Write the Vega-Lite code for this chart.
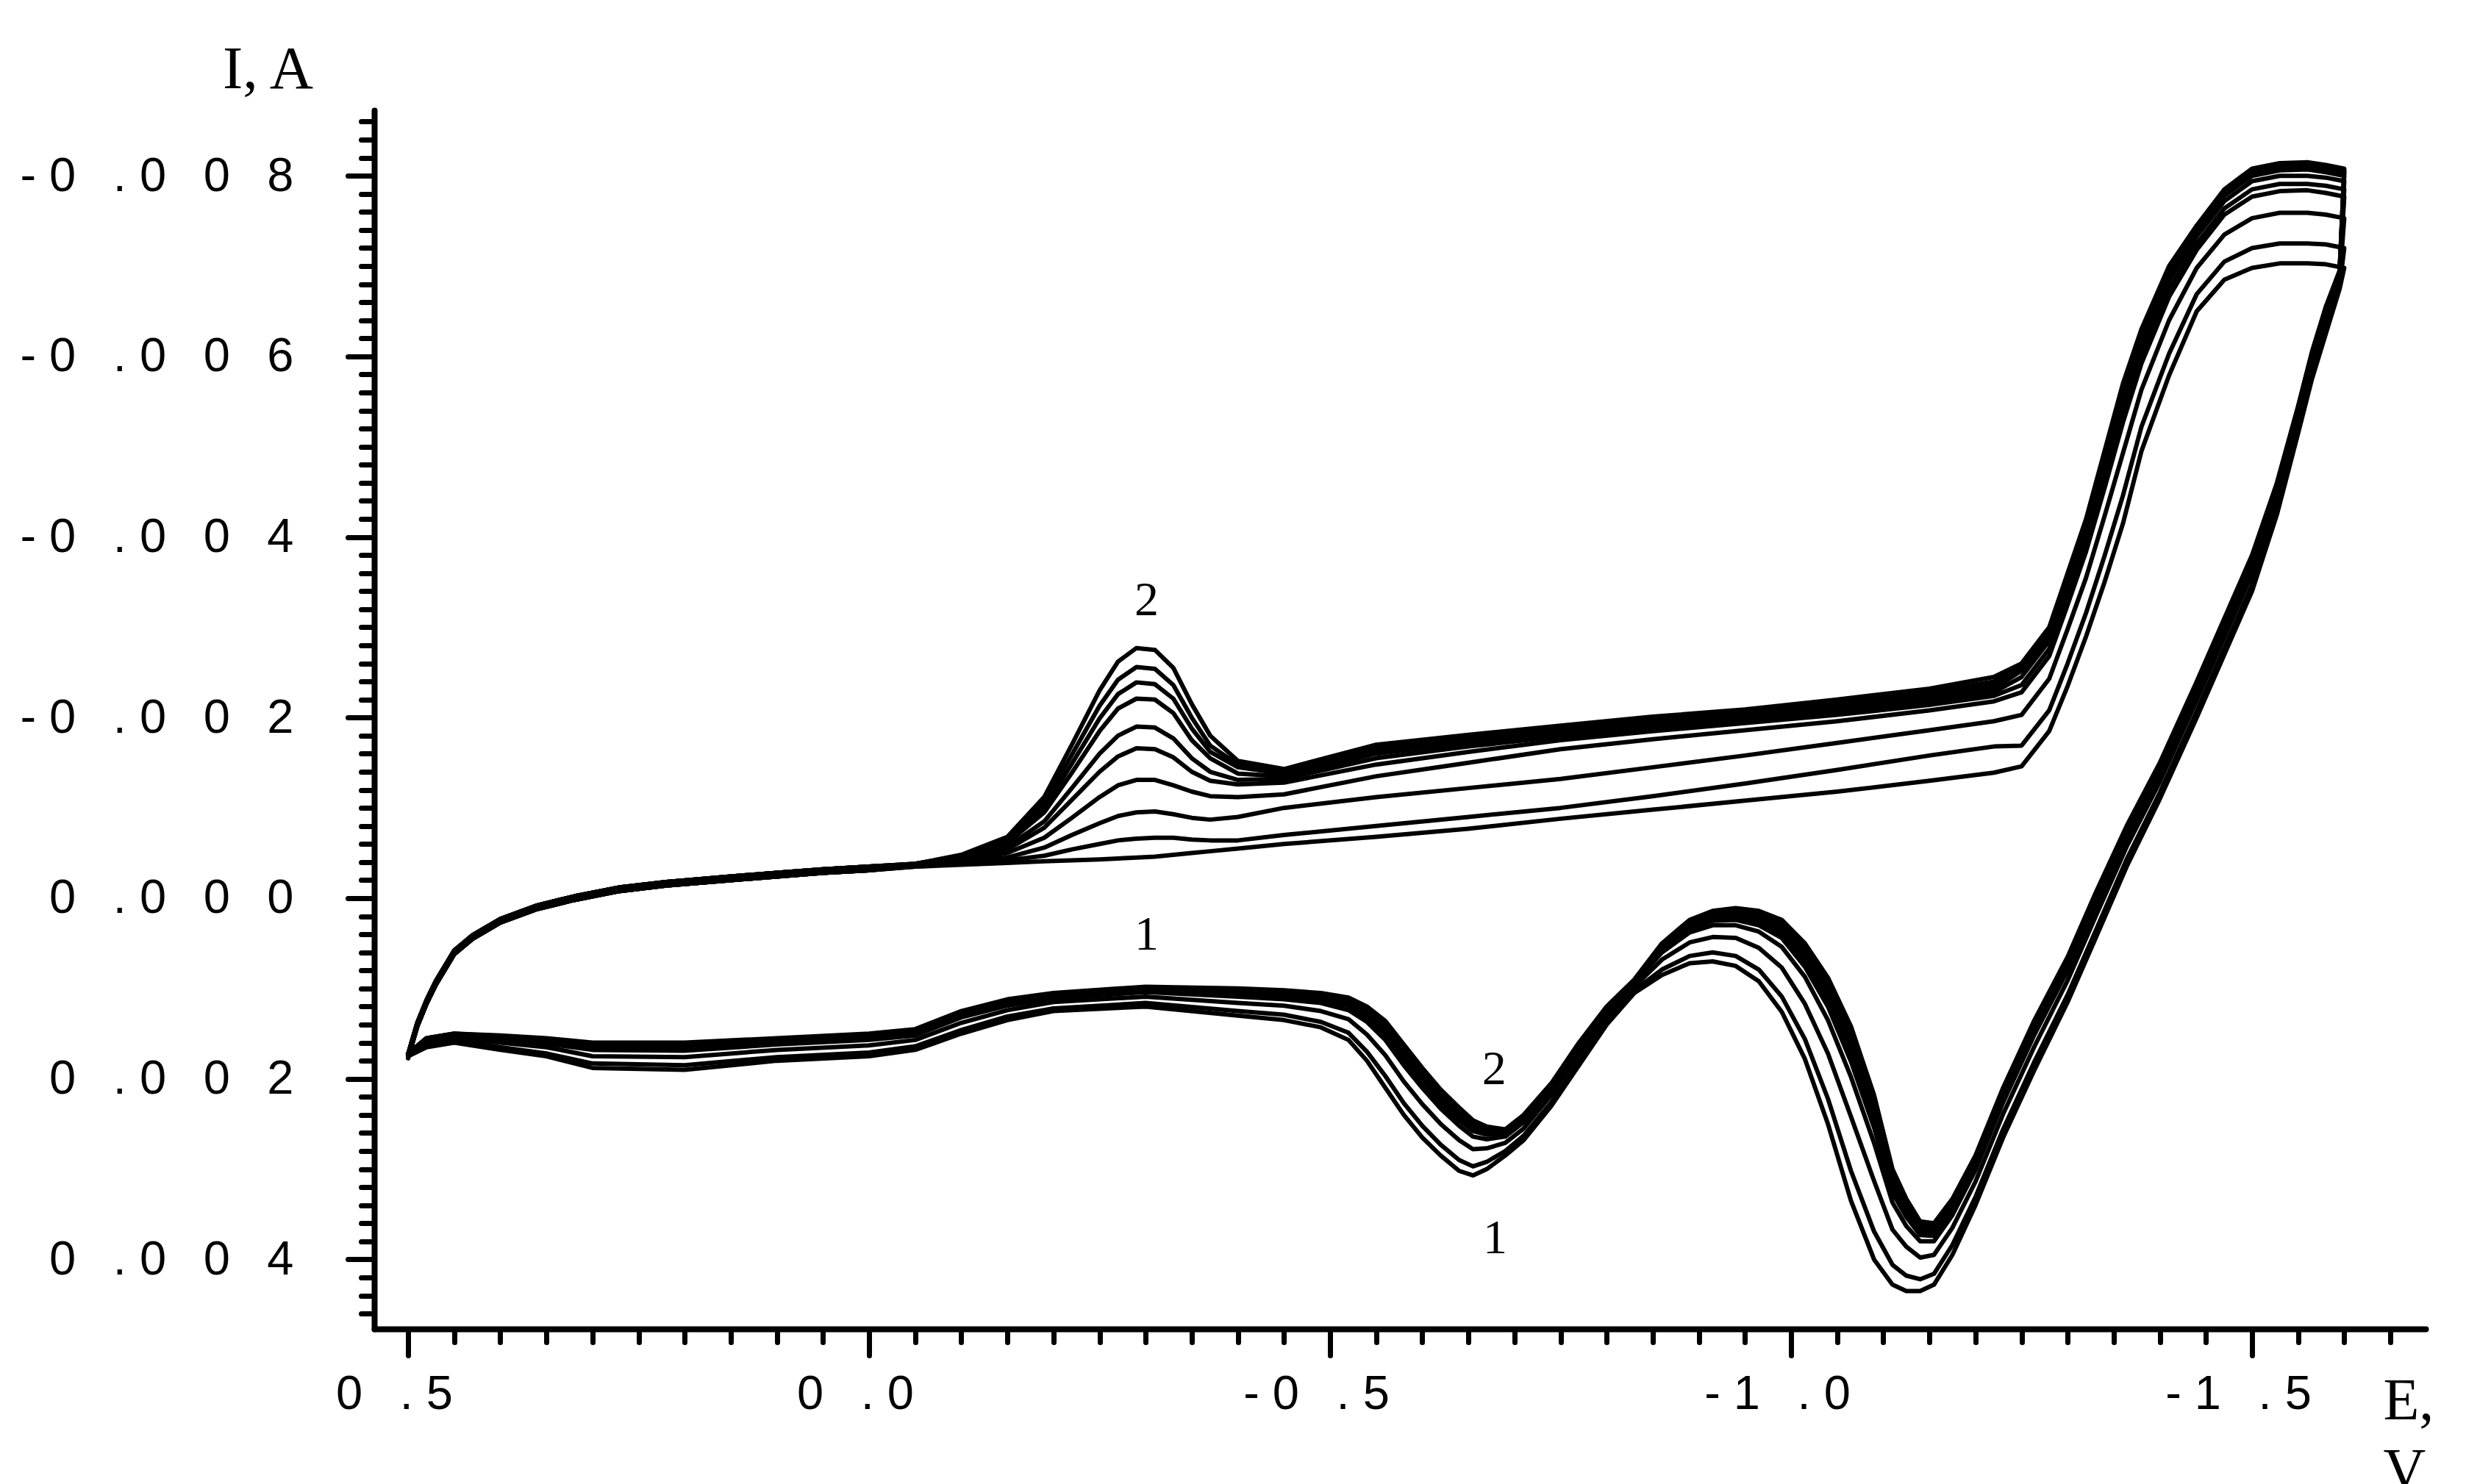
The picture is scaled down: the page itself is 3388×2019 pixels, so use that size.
{
"$schema": "https://vega.github.io/schema/vega-lite/v6.json",
"width": 2790, "height": 1658,
"autosize": {"type": "none"},
"padding": {"left": 509, "top": 150, "right": 89, "bottom": 211},
"background": "white",
"config": {"view": {"stroke": null}, "axis": {"grid": false}},
"resolve": {"axis": {"x": "independent", "y": "independent"}},
"layer": [
{
"data": {"values": [
{"k":1,"E":0.5,"c1":0.00177,"c2":0.00177,"c3":0.00177,"c4":0.00177,"c5":0.00177,"c6":0.00173,"c7":0.00173,"c8":0.00173,"c9":0.00173,"c10":0.00173},
{"k":2,"E":0.49,"c1":0.00142,"c2":0.00142,"c3":0.00142,"c4":0.00142,"c5":0.00142,"c6":0.00138,"c7":0.00138,"c8":0.00138,"c9":0.00138,"c10":0.00138},
{"k":3,"E":0.48,"c1":0.00117,"c2":0.00117,"c3":0.00117,"c4":0.00117,"c5":0.00117,"c6":0.00113,"c7":0.00113,"c8":0.00113,"c9":0.00113,"c10":0.00113},
{"k":4,"E":0.47,"c1":0.00096,"c2":0.00096,"c3":0.00096,"c4":0.00096,"c5":0.00096,"c6":0.00092,"c7":0.00092,"c8":0.00092,"c9":0.00092,"c10":0.00092},
{"k":5,"E":0.45,"c1":0.00062,"c2":0.00062,"c3":0.00062,"c4":0.00062,"c5":0.00062,"c6":0.00058,"c7":0.00058,"c8":0.00058,"c9":0.00058,"c10":0.00058},
{"k":6,"E":0.43,"c1":0.00045,"c2":0.00045,"c3":0.00045,"c4":0.00045,"c5":0.00045,"c6":0.00041,"c7":0.00041,"c8":0.00041,"c9":0.00041,"c10":0.00041},
{"k":7,"E":0.40,"c1":0.00027,"c2":0.00027,"c3":0.00027,"c4":0.00027,"c5":0.00027,"c6":0.00023,"c7":0.00023,"c8":0.00023,"c9":0.00023,"c10":0.00023},
{"k":8,"E":0.36,"c1":0.00012,"c2":0.00012,"c3":0.00012,"c4":0.00012,"c5":0.00012,"c6":0.00008,"c7":0.00008,"c8":0.00008,"c9":0.00008,"c10":0.00008},
{"k":9,"E":0.32,"c1":0.00002,"c2":0.00002,"c3":0.00002,"c4":0.00002,"c5":0.00002,"c6":-0.00002,"c7":-0.00002,"c8":-0.00002,"c9":-0.00002,"c10":-0.00002},
{"k":10,"E":0.27,"c1":-0.00008,"c2":-0.00008,"c3":-0.00008,"c4":-0.00008,"c5":-0.00008,"c6":-0.00012,"c7":-0.00012,"c8":-0.00012,"c9":-0.00012,"c10":-0.00012},
{"k":11,"E":0.22,"c1":-0.00014,"c2":-0.00014,"c3":-0.00014,"c4":-0.00014,"c5":-0.00014,"c6":-0.00018,"c7":-0.00018,"c8":-0.00018,"c9":-0.00018,"c10":-0.00018},
{"k":12,"E":0.15,"c1":-0.0002,"c2":-0.0002,"c3":-0.0002,"c4":-0.0002,"c5":-0.0002,"c6":-0.00024,"c7":-0.00024,"c8":-0.00024,"c9":-0.00024,"c10":-0.00024},
{"k":13,"E":0.10,"c1":-0.00024,"c2":-0.00024,"c3":-0.00024,"c4":-0.00024,"c5":-0.00024,"c6":-0.00028,"c7":-0.00028,"c8":-0.00028,"c9":-0.00028,"c10":-0.00028},
{"k":14,"E":0.05,"c1":-0.00028,"c2":-0.00028,"c3":-0.00028,"c4":-0.00028,"c5":-0.00028,"c6":-0.00032,"c7":-0.00032,"c8":-0.00032,"c9":-0.00032,"c10":-0.00032},
{"k":15,"E":0.0,"c1":-0.00031,"c2":-0.00031,"c3":-0.00031,"c4":-0.00031,"c5":-0.00031,"c6":-0.00035,"c7":-0.00035,"c8":-0.00035,"c9":-0.00035,"c10":-0.00035},
{"k":16,"E":-0.05,"c1":-0.00035,"c2":-0.00035,"c3":-0.00036,"c4":-0.00036,"c5":-0.00037,"c6":-0.00037,"c7":-0.00037,"c8":-0.00038,"c9":-0.00038,"c10":-0.00038},
{"k":17,"E":-0.10,"c1":-0.00037,"c2":-0.00038,"c3":-0.00039,"c4":-0.00041,"c5":-0.00043,"c6":-0.00044,"c7":-0.00045,"c8":-0.00046,"c9":-0.00047,"c10":-0.00048},
{"k":18,"E":-0.15,"c1":-0.00039,"c2":-0.00042,"c3":-0.00045,"c4":-0.0005,"c5":-0.00054,"c6":-0.00057,"c7":-0.00061,"c8":-0.00063,"c9":-0.00065,"c10":-0.00068},
{"k":19,"E":-0.19,"c1":-0.00041,"c2":-0.00047,"c3":-0.00056,"c4":-0.00067,"c5":-0.00078,"c6":-0.00085,"c7":-0.00095,"c8":-0.001,"c9":-0.00106,"c10":-0.00112},
{"k":20,"E":-0.22,"c1":-0.00042,"c2":-0.00054,"c3":-0.0007,"c4":-0.00089,"c5":-0.00109,"c6":-0.00122,"c7":-0.00139,"c8":-0.00149,"c9":-0.00159,"c10":-0.0017},
{"k":21,"E":-0.25,"c1":-0.00043,"c2":-0.0006,"c3":-0.00083,"c4":-0.00112,"c5":-0.0014,"c6":-0.0016,"c7":-0.00185,"c8":-0.00199,"c9":-0.00213,"c10":-0.0023},
{"k":22,"E":-0.27,"c1":-0.00044,"c2":-0.00064,"c3":-0.00091,"c4":-0.00125,"c5":-0.00157,"c6":-0.0018,"c7":-0.0021,"c8":-0.00226,"c9":-0.00242,"c10":-0.00262},
{"k":23,"E":-0.29,"c1":-0.00045,"c2":-0.00066,"c3":-0.00095,"c4":-0.00131,"c5":-0.00166,"c6":-0.0019,"c7":-0.00221,"c8":-0.00239,"c9":-0.00256,"c10":-0.00277},
{"k":24,"E":-0.31,"c1":-0.00046,"c2":-0.00067,"c3":-0.00096,"c4":-0.00131,"c5":-0.00165,"c6":-0.00189,"c7":-0.0022,"c8":-0.00237,"c9":-0.00254,"c10":-0.00275},
{"k":25,"E":-0.33,"c1":-0.00048,"c2":-0.00067,"c3":-0.00093,"c4":-0.00125,"c5":-0.00156,"c6":-0.00177,"c7":-0.00205,"c8":-0.00221,"c9":-0.00236,"c10":-0.00255},
{"k":26,"E":-0.35,"c1":-0.0005,"c2":-0.00065,"c3":-0.00089,"c4":-0.00118,"c5":-0.0014,"c6":-0.00155,"c7":-0.00175,"c8":-0.00188,"c9":-0.002,"c10":-0.00215},
{"k":27,"E":-0.37,"c1":-0.00052,"c2":-0.00064,"c3":-0.00087,"c4":-0.00113,"c5":-0.0013,"c6":-0.0014,"c7":-0.00155,"c8":-0.00162,"c9":-0.00169,"c10":-0.0018},
{"k":28,"E":-0.40,"c1":-0.00055,"c2":-0.00064,"c3":-0.0009,"c4":-0.00112,"c5":-0.00126,"c6":-0.00131,"c7":-0.00138,"c8":-0.00145,"c9":-0.00148,"c10":-0.00152},
{"k":29,"E":-0.45,"c1":-0.0006,"c2":-0.0007,"c3":-0.001,"c4":-0.00115,"c5":-0.00128,"c6":-0.00132,"c7":-0.00135,"c8":-0.00138,"c9":-0.0014,"c10":-0.00143},
{"k":30,"E":-0.55,"c1":-0.00068,"c2":-0.0008,"c3":-0.00112,"c4":-0.00135,"c5":-0.00148,"c6":-0.00155,"c7":-0.0016,"c8":-0.00164,"c9":-0.00167,"c10":-0.0017},
{"k":31,"E":-0.65,"c1":-0.00077,"c2":-0.0009,"c3":-0.00122,"c4":-0.0015,"c5":-0.00162,"c6":-0.00168,"c7":-0.00172,"c8":-0.00175,"c9":-0.00178,"c10":-0.00181},
{"k":32,"E":-0.75,"c1":-0.00088,"c2":-0.001,"c3":-0.00132,"c4":-0.00165,"c5":-0.00175,"c6":-0.00179,"c7":-0.00182,"c8":-0.00185,"c9":-0.00188,"c10":-0.00191},
{"k":33,"E":-0.85,"c1":-0.00098,"c2":-0.00113,"c3":-0.00145,"c4":-0.00176,"c5":-0.00185,"c6":-0.00188,"c7":-0.00192,"c8":-0.00195,"c9":-0.00198,"c10":-0.00201},
{"k":34,"E":-0.95,"c1":-0.00108,"c2":-0.00127,"c3":-0.00158,"c4":-0.00186,"c5":-0.00194,"c6":-0.00197,"c7":-0.002,"c8":-0.00203,"c9":-0.00206,"c10":-0.00209},
{"k":35,"E":-1.05,"c1":-0.00118,"c2":-0.00142,"c3":-0.00172,"c4":-0.00196,"c5":-0.00203,"c6":-0.00206,"c7":-0.00209,"c8":-0.00212,"c9":-0.00216,"c10":-0.0022},
{"k":36,"E":-1.15,"c1":-0.0013,"c2":-0.00158,"c3":-0.00186,"c4":-0.00208,"c5":-0.00214,"c6":-0.00217,"c7":-0.0022,"c8":-0.00224,"c9":-0.00228,"c10":-0.00232},
{"k":37,"E":-1.22,"c1":-0.00139,"c2":-0.00168,"c3":-0.00196,"c4":-0.00218,"c5":-0.00224,"c6":-0.00228,"c7":-0.00232,"c8":-0.00236,"c9":-0.0024,"c10":-0.00245},
{"k":38,"E":-1.25,"c1":-0.00146,"c2":-0.00169,"c3":-0.00203,"c4":-0.00228,"c5":-0.00236,"c6":-0.00245,"c7":-0.00252,"c8":-0.00255,"c9":-0.00258,"c10":-0.0026},
{"k":39,"E":-1.28,"c1":-0.00185,"c2":-0.00208,"c3":-0.00243,"c4":-0.00268,"c5":-0.00276,"c6":-0.00285,"c7":-0.00292,"c8":-0.00295,"c9":-0.00298,"c10":-0.003},
{"k":40,"E":-1.30,"c1":-0.00235,"c2":-0.0026,"c3":-0.00298,"c4":-0.00325,"c5":-0.00334,"c6":-0.00344,"c7":-0.00351,"c8":-0.00355,"c9":-0.00358,"c10":-0.0036},
{"k":41,"E":-1.32,"c1":-0.0029,"c2":-0.00316,"c3":-0.00355,"c4":-0.00384,"c5":-0.00393,"c6":-0.00403,"c7":-0.00411,"c8":-0.00415,"c9":-0.00417,"c10":-0.0042},
{"k":42,"E":-1.34,"c1":-0.0035,"c2":-0.00379,"c3":-0.00423,"c4":-0.00454,"c5":-0.00465,"c6":-0.00476,"c7":-0.00485,"c8":-0.00489,"c9":-0.00492,"c10":-0.00495},
{"k":43,"E":-1.36,"c1":-0.00415,"c2":-0.00446,"c3":-0.00493,"c4":-0.00527,"c5":-0.00537,"c6":-0.0055,"c7":-0.00559,"c8":-0.00564,"c9":-0.00567,"c10":-0.0057},
{"k":44,"E":-1.38,"c1":-0.00495,"c2":-0.00522,"c3":-0.00563,"c4":-0.00592,"c5":-0.00602,"c6":-0.00612,"c7":-0.00621,"c8":-0.00625,"c9":-0.00627,"c10":-0.0063},
{"k":45,"E":-1.41,"c1":-0.00579,"c2":-0.00603,"c3":-0.0064,"c4":-0.00666,"c5":-0.00675,"c6":-0.00684,"c7":-0.00692,"c8":-0.00695,"c9":-0.00698,"c10":-0.007},
{"k":46,"E":-1.44,"c1":-0.0065,"c2":-0.00669,"c3":-0.00698,"c4":-0.00718,"c5":-0.00725,"c6":-0.00733,"c7":-0.00738,"c8":-0.00741,"c9":-0.00743,"c10":-0.00745},
{"k":47,"E":-1.47,"c1":-0.00685,"c2":-0.00705,"c3":-0.00735,"c4":-0.00757,"c5":-0.00764,"c6":-0.00772,"c7":-0.00778,"c8":-0.00781,"c9":-0.00783,"c10":-0.00785},
{"k":48,"E":-1.50,"c1":-0.00698,"c2":-0.0072,"c3":-0.00753,"c4":-0.00777,"c5":-0.00785,"c6":-0.00794,"c7":-0.008,"c8":-0.00804,"c9":-0.00806,"c10":-0.00808},
{"k":49,"E":-1.53,"c1":-0.00703,"c2":-0.00725,"c3":-0.00759,"c4":-0.00783,"c5":-0.00791,"c6":-0.008,"c7":-0.00806,"c8":-0.0081,"c9":-0.00812,"c10":-0.00814},
{"k":50,"E":-1.56,"c1":-0.00703,"c2":-0.00725,"c3":-0.00759,"c4":-0.00784,"c5":-0.00791,"c6":-0.008,"c7":-0.00807,"c8":-0.00811,"c9":-0.00813,"c10":-0.00815},
{"k":51,"E":-1.58,"c1":-0.00702,"c2":-0.00724,"c3":-0.00757,"c4":-0.00781,"c5":-0.00789,"c6":-0.00798,"c7":-0.00804,"c8":-0.00808,"c9":-0.0081,"c10":-0.00812},
{"k":52,"E":-1.60,"c1":-0.00698,"c2":-0.0072,"c3":-0.00753,"c4":-0.00777,"c5":-0.00785,"c6":-0.00794,"c7":-0.008,"c8":-0.00804,"c9":-0.00806,"c10":-0.00808},
{"k":53,"E":-1.595,"c1":-0.00675,"c2":-0.00678,"c3":-0.00685,"c4":-0.00689,"c5":-0.00691,"c6":-0.00692,"c7":-0.00693,"c8":-0.00694,"c9":-0.00694,"c10":-0.00695},
{"k":54,"E":-1.58,"c1":-0.00625,"c2":-0.0063,"c3":-0.00639,"c4":-0.00646,"c5":-0.00649,"c6":-0.00651,"c7":-0.00652,"c8":-0.00653,"c9":-0.00654,"c10":-0.00655},
{"k":55,"E":-1.565,"c1":-0.00575,"c2":-0.0058,"c3":-0.00589,"c4":-0.00596,"c5":-0.00599,"c6":-0.00601,"c7":-0.00602,"c8":-0.00603,"c9":-0.00604,"c10":-0.00605},
{"k":56,"E":-1.55,"c1":-0.00515,"c2":-0.0052,"c3":-0.00529,"c4":-0.00536,"c5":-0.00539,"c6":-0.00541,"c7":-0.00542,"c8":-0.00543,"c9":-0.00544,"c10":-0.00545},
{"k":57,"E":-1.527,"c1":-0.00425,"c2":-0.00431,"c3":-0.00442,"c4":-0.0045,"c5":-0.00453,"c6":-0.00455,"c7":-0.00456,"c8":-0.00458,"c9":-0.00459,"c10":-0.0046},
{"k":58,"E":-1.50,"c1":-0.0034,"c2":-0.00347,"c3":-0.00359,"c4":-0.00368,"c5":-0.00372,"c6":-0.00374,"c7":-0.00376,"c8":-0.00377,"c9":-0.00378,"c10":-0.0038},
{"k":59,"E":-1.47,"c1":-0.0027,"c2":-0.00277,"c3":-0.00289,"c4":-0.00298,"c5":-0.00302,"c6":-0.00304,"c7":-0.00306,"c8":-0.00307,"c9":-0.00308,"c10":-0.0031},
{"k":60,"E":-1.44,"c1":-0.002,"c2":-0.00207,"c3":-0.00219,"c4":-0.00228,"c5":-0.00232,"c6":-0.00234,"c7":-0.00236,"c8":-0.00237,"c9":-0.00238,"c10":-0.0024},
{"k":61,"E":-1.40,"c1":-0.0011,"c2":-0.00117,"c3":-0.00129,"c4":-0.00138,"c5":-0.00142,"c6":-0.00144,"c7":-0.00146,"c8":-0.00147,"c9":-0.00148,"c10":-0.0015},
{"k":62,"E":-1.364,"c1":-0.00035,"c2":-0.00043,"c3":-0.00057,"c4":-0.00067,"c5":-0.00071,"c6":-0.00073,"c7":-0.00075,"c8":-0.00077,"c9":-0.00078,"c10":-0.0008},
{"k":63,"E":-1.33,"c1":0.00045,"c2":0.00037,"c3":0.00021,"c4":0.0001,"c5":0.00005,"c6":0.00003,"c7":0.00001,"c8":-0.00002,"c9":-0.00003,"c10":-0.00005},
{"k":64,"E":-1.30,"c1":0.00115,"c2":0.00107,"c3":0.00091,"c4":0.0008,"c5":0.00075,"c6":0.00073,"c7":0.00071,"c8":0.00068,"c9":0.00067,"c10":0.00065},
{"k":65,"E":-1.264,"c1":0.0019,"c2":0.00181,"c3":0.00164,"c4":0.00151,"c5":0.00146,"c6":0.00143,"c7":0.00141,"c8":0.00139,"c9":0.00137,"c10":0.00135},
{"k":66,"E":-1.23,"c1":0.00265,"c2":0.00256,"c3":0.00239,"c4":0.00226,"c5":0.00221,"c6":0.00218,"c7":0.00216,"c8":0.00214,"c9":0.00212,"c10":0.0021},
{"k":67,"E":-1.20,"c1":0.0034,"c2":0.00331,"c3":0.00314,"c4":0.00301,"c5":0.00296,"c6":0.00293,"c7":0.00291,"c8":0.00289,"c9":0.00287,"c10":0.00285},
{"k":68,"E":-1.175,"c1":0.00395,"c2":0.00384,"c3":0.00365,"c4":0.00351,"c5":0.00345,"c6":0.00342,"c7":0.0034,"c8":0.00337,"c9":0.00335,"c10":0.00333},
{"k":69,"E":-1.155,"c1":0.00428,"c2":0.00416,"c3":0.00395,"c4":0.0038,"c5":0.00374,"c6":0.0037,"c7":0.00367,"c8":0.00365,"c9":0.00363,"c10":0.0036},
{"k":70,"E":-1.14,"c1":0.00435,"c2":0.00422,"c3":0.00398,"c4":0.0038,"c5":0.00373,"c6":0.0037,"c7":0.00366,"c8":0.00363,"c9":0.00361,"c10":0.00358},
{"k":71,"E":-1.125,"c1":0.00435,"c2":0.00418,"c3":0.00386,"c4":0.00363,"c5":0.00353,"c6":0.00348,"c7":0.00344,"c8":0.0034,"c9":0.00337,"c10":0.00333},
{"k":72,"E":-1.11,"c1":0.00428,"c2":0.00406,"c3":0.00367,"c4":0.00337,"c5":0.00326,"c6":0.00319,"c7":0.00314,"c8":0.00309,"c9":0.00305,"c10":0.003},
{"k":73,"E":-1.09,"c1":0.004,"c2":0.00369,"c3":0.00313,"c4":0.00271,"c5":0.00254,"c6":0.00245,"c7":0.00238,"c8":0.00231,"c9":0.00225,"c10":0.00218},
{"k":74,"E":-1.065,"c1":0.00335,"c2":0.00302,"c3":0.00242,"c4":0.00198,"c5":0.00181,"c6":0.00171,"c7":0.00163,"c8":0.00156,"c9":0.0015,"c10":0.00142},
{"k":75,"E":-1.04,"c1":0.0025,"c2":0.00222,"c3":0.00172,"c4":0.00135,"c5":0.0012,"c6":0.00112,"c7":0.00106,"c8":0.00099,"c9":0.00094,"c10":0.00088},
{"k":76,"E":-1.015,"c1":0.00178,"c2":0.00156,"c3":0.00117,"c4":0.00087,"c5":0.00076,"c6":0.00069,"c7":0.00064,"c8":0.00059,"c9":0.00055,"c10":0.0005},
{"k":77,"E":-0.99,"c1":0.00126,"c2":0.00109,"c3":0.00077,"c4":0.00054,"c5":0.00044,"c6":0.00039,"c7":0.00035,"c8":0.00031,"c9":0.00028,"c10":0.00024},
{"k":78,"E":-0.965,"c1":0.00092,"c2":0.00079,"c3":0.00055,"c4":0.00037,"c5":0.0003,"c6":0.00026,"c7":0.00023,"c8":0.00019,"c9":0.00017,"c10":0.00014},
{"k":79,"E":-0.94,"c1":0.00075,"c2":0.00064,"c3":0.00044,"c4":0.0003,"c5":0.00024,"c6":0.00021,"c7":0.00018,"c8":0.00015,"c9":0.00014,"c10":0.00011},
{"k":80,"E":-0.915,"c1":0.0007,"c2":0.0006,"c3":0.00043,"c4":0.0003,"c5":0.00025,"c6":0.00022,"c7":0.0002,"c8":0.00018,"c9":0.00016,"c10":0.00014},
{"k":81,"E":-0.89,"c1":0.00072,"c2":0.00064,"c3":0.00049,"c4":0.00038,"c5":0.00034,"c6":0.00031,"c7":0.00029,"c8":0.00027,"c9":0.00026,"c10":0.00024},
{"k":82,"E":-0.86,"c1":0.00085,"c2":0.00079,"c3":0.00068,"c4":0.0006,"c5":0.00057,"c6":0.00055,"c7":0.00054,"c8":0.00052,"c9":0.00051,"c10":0.0005},
{"k":83,"E":-0.83,"c1":0.00105,"c2":0.00102,"c3":0.00098,"c4":0.00094,"c5":0.00093,"c6":0.00092,"c7":0.00092,"c8":0.00091,"c9":0.00091,"c10":0.0009},
{"k":84,"E":-0.80,"c1":0.0014,"c2":0.00137,"c3":0.0013,"c4":0.00126,"c5":0.00124,"c6":0.00123,"c7":0.00122,"c8":0.00121,"c9":0.00121,"c10":0.0012},
{"k":85,"E":-0.77,"c1":0.00185,"c2":0.00181,"c3":0.00173,"c4":0.00167,"c5":0.00165,"c6":0.00164,"c7":0.00163,"c8":0.00162,"c9":0.00161,"c10":0.0016},
{"k":86,"E":-0.74,"c1":0.0023,"c2":0.00226,"c3":0.00218,"c4":0.00212,"c5":0.0021,"c6":0.00209,"c7":0.00208,"c8":0.00207,"c9":0.00206,"c10":0.00205},
{"k":87,"E":-0.71,"c1":0.00268,"c2":0.00263,"c3":0.00255,"c4":0.00248,"c5":0.00246,"c6":0.00244,"c7":0.00243,"c8":0.00242,"c9":0.00241,"c10":0.0024},
{"k":88,"E":-0.69,"c1":0.00285,"c2":0.0028,"c3":0.00271,"c4":0.00264,"c5":0.00262,"c6":0.0026,"c7":0.00259,"c8":0.00258,"c9":0.00257,"c10":0.00256},
{"k":89,"E":-0.67,"c1":0.003,"c2":0.00292,"c3":0.00277,"c4":0.00267,"c5":0.00262,"c6":0.0026,"c7":0.00258,"c8":0.00256,"c9":0.00255,"c10":0.00253},
{"k":90,"E":-0.655,"c1":0.00307,"c2":0.00297,"c3":0.00278,"c4":0.00264,"c5":0.00258,"c6":0.00255,"c7":0.00253,"c8":0.0025,"c9":0.00248,"c10":0.00246},
{"k":91,"E":-0.64,"c1":0.00302,"c2":0.0029,"c3":0.00268,"c4":0.00252,"c5":0.00246,"c6":0.00243,"c7":0.0024,"c8":0.00237,"c9":0.00235,"c10":0.00232},
{"k":92,"E":-0.62,"c1":0.00285,"c2":0.00273,"c3":0.0025,"c4":0.00233,"c5":0.00227,"c6":0.00223,"c7":0.0022,"c8":0.00217,"c9":0.00215,"c10":0.00212},
{"k":93,"E":-0.60,"c1":0.00265,"c2":0.00252,"c3":0.00228,"c4":0.0021,"c5":0.00203,"c6":0.002,"c7":0.00196,"c8":0.00193,"c9":0.00191,"c10":0.00188},
{"k":94,"E":-0.58,"c1":0.0024,"c2":0.00227,"c3":0.00203,"c4":0.00185,"c5":0.00178,"c6":0.00174,"c7":0.00171,"c8":0.00167,"c9":0.00165,"c10":0.00162},
{"k":95,"E":-0.56,"c1":0.0021,"c2":0.00197,"c3":0.00174,"c4":0.00157,"c5":0.00151,"c6":0.00147,"c7":0.00144,"c8":0.00141,"c9":0.00139,"c10":0.00136},
{"k":96,"E":-0.54,"c1":0.0018,"c2":0.0017,"c3":0.00151,"c4":0.00137,"c5":0.00132,"c6":0.00129,"c7":0.00127,"c8":0.00124,"c9":0.00122,"c10":0.0012},
{"k":97,"E":-0.52,"c1":0.00157,"c2":0.00149,"c3":0.00134,"c4":0.00124,"c5":0.00119,"c6":0.00117,"c7":0.00115,"c8":0.00113,"c9":0.00112,"c10":0.0011},
{"k":98,"E":-0.49,"c1":0.00143,"c2":0.00137,"c3":0.00125,"c4":0.00116,"c5":0.00113,"c6":0.00111,"c7":0.00109,"c8":0.00108,"c9":0.00107,"c10":0.00105},
{"k":99,"E":-0.45,"c1":0.00135,"c2":0.00129,"c3":0.00119,"c4":0.00112,"c5":0.00109,"c6":0.00107,"c7":0.00106,"c8":0.00104,"c9":0.00103,"c10":0.00102},
{"k":100,"E":-0.40,"c1":0.0013,"c2":0.00125,"c3":0.00116,"c4":0.00109,"c5":0.00106,"c6":0.00105,"c7":0.00103,"c8":0.00102,"c9":0.00101,"c10":0.001},
{"k":101,"E":-0.30,"c1":0.0012,"c2":0.00116,"c3":0.00109,"c4":0.00104,"c5":0.00102,"c6":0.00101,"c7":0.001,"c8":0.001,"c9":0.00099,"c10":0.00098},
{"k":102,"E":-0.20,"c1":0.00125,"c2":0.00122,"c3":0.00115,"c4":0.00111,"c5":0.00109,"c6":0.00108,"c7":0.00107,"c8":0.00106,"c9":0.00106,"c10":0.00105},
{"k":103,"E":-0.15,"c1":0.00135,"c2":0.00131,"c3":0.00124,"c4":0.00119,"c5":0.00117,"c6":0.00115,"c7":0.00115,"c8":0.00114,"c9":0.00113,"c10":0.00112},
{"k":104,"E":-0.10,"c1":0.0015,"c2":0.00146,"c3":0.00138,"c4":0.00132,"c5":0.0013,"c6":0.00129,"c7":0.00128,"c8":0.00127,"c9":0.00126,"c10":0.00125},
{"k":105,"E":-0.05,"c1":0.00168,"c2":0.00164,"c3":0.00157,"c4":0.00152,"c5":0.0015,"c6":0.00148,"c7":0.00148,"c8":0.00147,"c9":0.00146,"c10":0.00145},
{"k":106,"E":0.0,"c1":0.00175,"c2":0.00171,"c3":0.00163,"c4":0.00157,"c5":0.00155,"c6":0.00154,"c7":0.00153,"c8":0.00152,"c9":0.00151,"c10":0.0015},
{"k":107,"E":0.10,"c1":0.0018,"c2":0.00176,"c3":0.00168,"c4":0.00162,"c5":0.0016,"c6":0.00159,"c7":0.00158,"c8":0.00157,"c9":0.00156,"c10":0.00155},
{"k":108,"E":0.20,"c1":0.0019,"c2":0.00185,"c3":0.00176,"c4":0.00169,"c5":0.00166,"c6":0.00165,"c7":0.00163,"c8":0.00162,"c9":0.00161,"c10":0.0016},
{"k":109,"E":0.30,"c1":0.00188,"c2":0.00183,"c3":0.00175,"c4":0.00168,"c5":0.00166,"c6":0.00164,"c7":0.00163,"c8":0.00162,"c9":0.00161,"c10":0.0016},
{"k":110,"E":0.35,"c1":0.00175,"c2":0.00172,"c3":0.00165,"c4":0.00161,"c5":0.00159,"c6":0.00158,"c7":0.00157,"c8":0.00156,"c9":0.00156,"c10":0.00155},
{"k":111,"E":0.40,"c1":0.00168,"c2":0.00165,"c3":0.0016,"c4":0.00157,"c5":0.00155,"c6":0.00154,"c7":0.00154,"c8":0.00153,"c9":0.00153,"c10":0.00152},
{"k":112,"E":0.45,"c1":0.0016,"c2":0.00158,"c3":0.00155,"c4":0.00153,"c5":0.00152,"c6":0.00152,"c7":0.00151,"c8":0.00151,"c9":0.0015,"c10":0.0015},
{"k":113,"E":0.48,"c1":0.00165,"c2":0.00163,"c3":0.0016,"c4":0.00158,"c5":0.00157,"c6":0.00157,"c7":0.00156,"c8":0.00156,"c9":0.00155,"c10":0.00155},
{"k":114,"E":0.50,"c1":0.00175,"c2":0.00175,"c3":0.00174,"c4":0.00173,"c5":0.00173,"c6":0.00172,"c7":0.00172,"c8":0.00172,"c9":0.00172,"c10":0.00172}
]},
"transform": [{"fold": ["c1","c2","c3","c4","c5","c6","c7","c8","c9","c10"], "as": ["cycle", "I"]}],
"mark": {"type": "line", "color": "black", "strokeWidth": 6, "strokeJoin": "round", "strokeCap": "round"},
"encoding": {
"x": {"field": "E", "type": "quantitative",
"scale": {"domain": [-1.6882, 0.5367], "reverse": true, "nice": false, "zero": false},
"axis": {
"orient": "bottom",
"values": [0.5, 0, -0.5, -1, -1.5],
"title": ["E,", "V"],
"titleFont": "Liberation Serif", "titleFontSize": 80, "titleFontWeight": "normal", "titleColor": "black",
"titleAlign": "left", "titleBaseline": "top", "titleX": 2732, "titleY": 59, "titleLineHeight": 95, "titleAnchor": null,
"domainColor": "black", "domainWidth": 8, "domainCap": "round",
"tickColor": "black", "tickWidth": 7, "tickCap": "round", "tickSize": 36,
"labelExpr": "trim((datum.value < -1e-9 ? '-\u00a0' : '') + replace(replace(format(abs(datum.value), '.1f'), regexp('[0-9]', 'g'), '$&\u2002\u00a0'), regexp('[.]', 'g'), '.\u00a0'))",
"labelFont": "Liberation Sans", "labelFontSize": 65, "labelColor": "black", "labelPadding": 21, "labelOffset": -19, "labelLimit": 0,
"labelOverlap": false, "labelFlush": false, "labelBound": false
}},
"y": {"field": "I", "type": "quantitative",
"scale": {"domain": [-0.008726, 0.00477], "reverse": true, "nice": false, "zero": false},
"axis": {
"orient": "left",
"values": [-0.008, -0.006, -0.004, -0.002, 0, 0.002, 0.004],
"title": "I, A",
"titleFont": "Liberation Serif", "titleFontSize": 82, "titleFontWeight": "normal", "titleColor": "black",
"titleAngle": 0, "titleAlign": "center", "titleBaseline": "alphabetic", "titleX": -145, "titleY": -31, "titleAnchor": null,
"domainColor": "black", "domainWidth": 8, "domainCap": "round",
"tickColor": "black", "tickWidth": 7, "tickCap": "round", "tickSize": 36,
"labelExpr": "trim((datum.value < -1e-9 ? '-\u00a0' : '') + replace(replace(format(abs(datum.value), '.3f'), regexp('[0-9]', 'g'), '$&\u2002\u00a0'), regexp('[.]', 'g'), '.\u00a0'))",
"labelFont": "Liberation Sans", "labelFontSize": 65, "labelColor": "black", "labelPadding": 74, "labelLimit": 0,
"labelAlign": "right", "labelBaseline": "middle",
"labelOverlap": false, "labelFlush": false, "labelBound": false
}},
"detail": {"field": "cycle"},
"order": {"field": "k", "type": "quantitative"}
}
},
{
"data": {"values": [
{"E": -0.301, "I": -0.0033, "t": "2"},
{"E": -0.301, "I": 0.00041, "t": "1"},
{"E": -0.678, "I": 0.0019, "t": "2"},
{"E": -0.679, "I": 0.00377, "t": "1"}
]},
"mark": {"type": "text", "font": "Liberation Serif", "fontSize": 66, "color": "black", "align": "center", "baseline": "middle"},
"encoding": {
"x": {"field": "E", "type": "quantitative",
"axis": {
"orient": "bottom",
"values": [0.45,0.4,0.35,0.3,0.25,0.2,0.15,0.1,0.05,-0.05,-0.1,-0.15,-0.2,-0.25,-0.3,-0.35,-0.4,-0.45,-0.55,-0.6,-0.65,-0.7,-0.75,-0.8,-0.85,-0.9,-0.95,-1.05,-1.1,-1.15,-1.2,-1.25,-1.3,-1.35,-1.4,-1.45,-1.55,-1.6,-1.65],
"title": null, "labels": false, "domain": false,
"tickColor": "black", "tickWidth": 7, "tickCap": "round", "tickSize": 18
}},
"y": {"field": "I", "type": "quantitative",
"axis": {
"orient": "left",
"values": [-0.0086,-0.0084,-0.0082,-0.0078,-0.0076,-0.0074,-0.0072,-0.007,-0.0068,-0.0066,-0.0064,-0.0062,-0.0058,-0.0056,-0.0054,-0.0052,-0.005,-0.0048,-0.0046,-0.0044,-0.0042,-0.0038,-0.0036,-0.0034,-0.0032,-0.003,-0.0028,-0.0026,-0.0024,-0.0022,-0.0018,-0.0016,-0.0014,-0.0012,-0.001,-0.0008,-0.0006,-0.0004,-0.0002,0.0002,0.0004,0.0006,0.0008,0.001,0.0012,0.0014,0.0016,0.0018,0.0022,0.0024,0.0026,0.0028,0.003,0.0032,0.0034,0.0036,0.0038,0.0042,0.0044,0.0046],
"title": null, "labels": false, "domain": false,
"tickColor": "black", "tickWidth": 7, "tickCap": "round", "tickSize": 18
}},
"text": {"field": "t"}
}
}
]
}
